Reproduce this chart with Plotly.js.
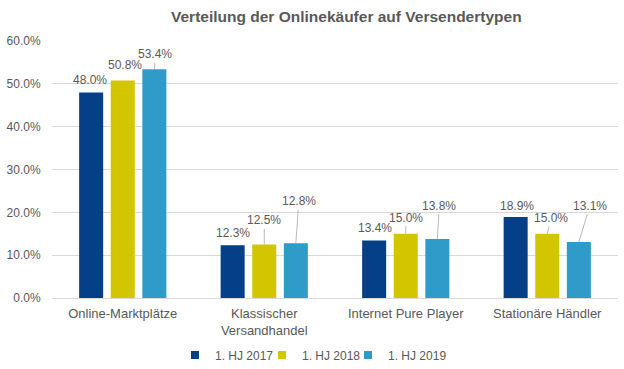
<!DOCTYPE html>
<html>
<head>
<meta charset="utf-8">
<script src="https://cdn.plot.ly/plotly-3.0.1.min.js"></script>
<style>html,body{margin:0;padding:0;background:#fff}#chart{width:624px;height:369px}</style>
</head>
<body>
<div id="chart"></div>
<script>
// ---- data ----
const categories = ["Online-Marktplätze", "Klassischer<br>Versandhandel", "Internet Pure Player", "Stationäre Händler"];
const seriesNames = ["1. HJ 2017", "1. HJ 2018", "1. HJ 2019"];
const hj2017 = [48.0, 12.3, 13.4, 18.9];
const hj2018 = [50.8, 12.5, 15.0, 15.0];
const hj2019 = [53.4, 12.8, 13.8, 13.1];
const yTicks = [0, 10, 20, 30, 40, 50, 60];

// ---- styles / label placement (pixels) ----
const colors = ["#053F88", "#D1C600", "#2E9BC8"];
const labelDx = [[-1, 2, 1], [0, 0, 3], [1, 0, 2], [1, 4, 11]];
const labelDy = [[-12, -15, -15], [-12, -24, -42], [-13, -16, -33], [-11, -16, -36]];
const labelLine = [[false, false, true], [false, true, true], [false, true, true], [false, true, true]];
const legendX = [0.2173, 0.371, 0.523];
const bargap = 0.33, bargroupgap = 0.24;
const FONT = "Liberation Sans, Arial, sans-serif";

const series = [hj2017, hj2018, hj2019];
const legendIds = ["legend", "legend2", "legend3"];
const traces = series.map((vals, j) => ({
  type: "bar",
  name: seriesNames[j],
  x: categories,
  y: vals,
  marker: {color: colors[j]},
  showlegend: false,
  hoverinfo: "skip"
}));
// legend entries with small square symbols
seriesNames.forEach((n, j) => traces.push({
  type: "scatter", mode: "markers", name: n,
  x: [null], y: [null],
  marker: {symbol: "square", size: 8, color: colors[j]},
  showlegend: true, legend: legendIds[j], hoverinfo: "skip"
}));

const slot = (1 - bargap) / series.length;
const annotations = [];
series.forEach((vals, j) => {
  vals.forEach((v, i) => {
    const xpos = i + (j - (series.length - 1) / 2) * slot;
    const base = {
      x: xpos, y: v, xref: "x", yref: "y",
      text: v.toFixed(1) + "%",
      font: {family: FONT, size: 12, color: "#595959"}
    };
    if (labelLine[i][j]) {
      Object.assign(base, {showarrow: true, arrowhead: 0, arrowwidth: 0.8, arrowcolor: "#A6A6A6",
        ax: labelDx[i][j], ay: labelDy[i][j], standoff: 0});
    } else {
      Object.assign(base, {showarrow: false, xshift: labelDx[i][j], yshift: -labelDy[i][j], yanchor: "middle"});
    }
    annotations.push(base);
  });
});

const layout = {
  width: 624, height: 369,
  margin: {l: 52, r: 6, t: 41, b: 71, autoexpand: false},
  paper_bgcolor: "#ffffff", plot_bgcolor: "#ffffff",
  font: {family: FONT, size: 12, color: "#595959"},
  title: {
    text: "<b>Verteilung der Onlinekäufer auf Versendertypen</b>",
    font: {family: FONT, size: 15.5, color: "#595959"},
    x: 0.555, xanchor: "center", y: 0.955, yanchor: "middle"
  },
  barmode: "group",
  bargap: bargap, bargroupgap: bargroupgap,
  xaxis: {
    type: "category",
    tickfont: {family: FONT, size: 13, color: "#595959"},
    showline: false, showgrid: false,
    ticks: "outside", ticklen: 3, tickcolor: "rgba(0,0,0,0)"
  },
  yaxis: {
    range: [0, 60],
    tickvals: yTicks,
    ticktext: yTicks.map(t => t.toFixed(1) + "%"),
    tickfont: {family: FONT, size: 12, color: "#595959"},
    showgrid: true, gridcolor: "#D9D9D9", gridwidth: 1,
    zeroline: true, zerolinecolor: "#D9D9D9", zerolinewidth: 1,
    showline: false, ticks: "outside", ticklen: 8, tickcolor: "rgba(0,0,0,0)"
  },
  annotations: annotations,
  showlegend: true
};
legendIds.forEach((id, j) => {
  layout[id] = {
    orientation: "h", x: legendX[j], xanchor: "left",
    yref: "container", y: 0.038, yanchor: "middle",
    font: {family: FONT, size: 12, color: "#595959"},
    itemwidth: 30, bgcolor: "rgba(0,0,0,0)"
  };
});

Plotly.newPlot("chart", traces, layout, {displayModeBar: false, staticPlot: true});
</script>
</body>
</html>
